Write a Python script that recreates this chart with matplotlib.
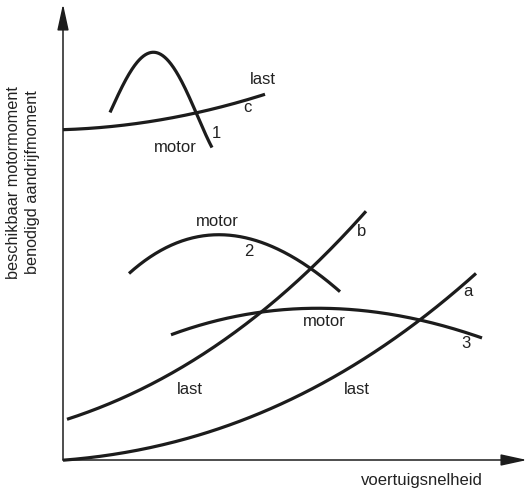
import matplotlib.pyplot as plt
import numpy as np

plt.rcParams['font.family'] = ['Liberation Sans', 'DejaVu Sans']

# Curves: (speed, torque) control points
motor_1 = [(47, 348), (57, 368), (67, 388), (78, 402), (90, 408), (102, 403),
           (112, 390), (122, 370), (134, 347), (149, 312)]
load_c = [(0, 330), (47, 334), (97, 340), (134, 347), (177, 358), (202, 366)]
motor_2 = [(66, 186), (85, 202), (104, 213), (127, 222), (154, 225), (180, 223),
           (200, 216), (220, 207), (250, 193), (277, 167)]
load_b = [(4, 41), (37, 52), (70, 67), (120, 93), (160, 120), (197, 147),
          (250, 193), (303, 249)]
motor_3 = [(108, 125), (154, 140), (200, 148), (254, 151), (287, 151), (320, 147),
           (357, 140), (419, 122)]
load_a = [(0, 0), (37, 3), (104, 17), (154, 31), (187, 43), (237, 63), (287, 93),
          (327, 120), (357, 140), (387, 163), (413, 187)]

curves = [(motor_1, 4), (load_c, 2), (motor_2, 3), (load_b, 3), (motor_3, 3), (load_a, 3)]

# Curve labels: (text, x, y)
labels = [
    ('last', 200, 380), ('c', 184, 352), ('1', 153, 326), ('motor', 112, 313),
    ('motor', 154, 238), ('2', 186, 209), ('b', 299, 228),
    ('a', 405, 168), ('3', 403, 117), ('motor', 261, 138),
    ('last', 127, 71), ('last', 294, 71),
]

fig = plt.figure(figsize=(5.27, 4.93), dpi=100)
ax = fig.add_axes([0, 0, 1, 1])
ax.set_xlim(-63, 464)
ax.set_ylim(-33, 460)
ax.axis('off')

ink = '#1c1c1c'
for pts, deg in curves:
    p = np.array(pts, dtype=float)
    fit = np.polynomial.Polynomial.fit(p[:, 0], p[:, 1], deg)
    xs = np.linspace(p[0, 0], p[-1, 0], 200)
    ax.plot(xs, fit(xs), color=ink, lw=2.3, solid_capstyle='butt')

# axes with arrow heads
arrow = dict(arrowstyle='-|>,head_length=1.6,head_width=0.35', color=ink, lw=1.1,
             shrinkA=0, shrinkB=0)
ax.annotate('', xy=(0, 456), xytext=(0, 0), arrowprops=arrow)
ax.annotate('', xy=(464, 0), xytext=(0, 0), arrowprops=arrow)

for txt, x, y in labels:
    ax.text(x, y, txt, fontsize=12, color='#222222', ha='center', va='center')

ax.text(359, -20, 'voertuigsnelheid', fontsize=12, color='#222222',
        ha='center', va='center')
ax.text(-49, 277, 'beschikbaar motormoment', fontsize=11.7, color='#222222',
        rotation=90, ha='center', va='center')
ax.text(-30, 278, 'benodigd aandrijfmoment', fontsize=11.7, color='#222222',
        rotation=90, ha='center', va='center')

plt.savefig('out.png', dpi=100)
plt.close()
